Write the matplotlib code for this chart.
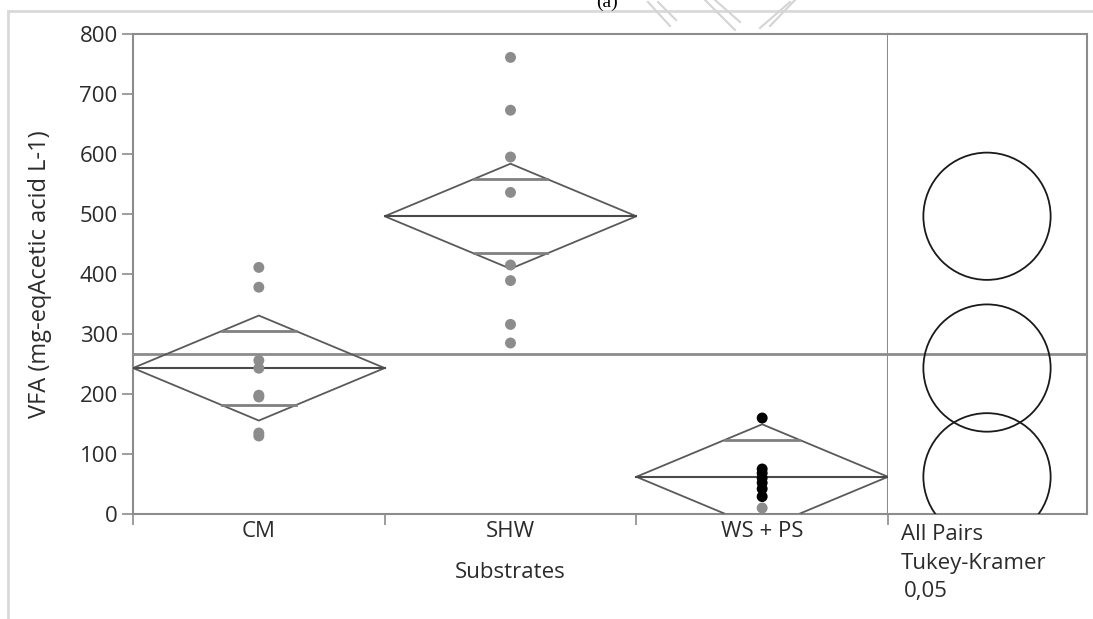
import numpy as np
import matplotlib
matplotlib.use("Agg")
import matplotlib.pyplot as plt
from matplotlib.lines import Line2D
from matplotlib.patches import Polygon, Circle

plt.rcParams['font.family'] = ['Open Sans', 'DejaVu Sans']

# ---- data -------------------------------------------------------------
groups = ["CM", "SHW", "WS + PS"]
cm_vals = [411, 378, 256, 243, 198, 195, 135, 130]
shw_vals = [761, 673, 595, 536, 415, 389, 316, 285]
wsps_vals = [160, 75, 68, 60, 52, 42, 29, 10]
wsps_colors = ["black"] * 7 + ["#8c8c8c"]
group_vals = [cm_vals, shw_vals, wsps_vals]
group_colors = [["#8c8c8c"] * len(cm_vals), ["#8c8c8c"] * len(shw_vals), wsps_colors]

t_crit = 2.080     # t(0.975, 21)
q_crit = 3.565     # studentized range q(0.05, 3, 21)
alpha_text = "0,05"

# ---- one-way ANOVA summaries -----------------------------------------
means = np.array([np.mean(v) for v in group_vals])
ns = np.array([len(v) for v in group_vals])
ss = sum(((np.array(v) - np.mean(v)) ** 2).sum() for v in group_vals)
dfe = ns.sum() - len(ns)
mse = ss / dfe
se = np.sqrt(mse / ns)
ci = t_crit * se
overlap = ci / np.sqrt(2)
circle_r = q_crit * se / np.sqrt(2)
grand_mean = np.mean(np.concatenate(group_vals))

# ---- figure layout ----------------------------------------------------
W, H = 1093, 619
fig = plt.figure(figsize=(W / 100, H / 100), dpi=100)
x0, x1, x2 = 133, 888, 1087
ytop, ybot = 34, 514
ax = fig.add_axes([x0 / W, (H - ybot) / H, (x1 - x0) / W, (ybot - ytop) / H])
ax2 = fig.add_axes([x1 / W, (H - ybot) / H, (x2 - x1) / W, (ybot - ytop) / H])

spine_c = "#8c8c8c"
text_c = "#2b2b2b"
fs = 16
ymax = 800

# ---- means diamonds plot ---------------------------------------------
ax.set_xlim(0, len(groups))
ax.set_ylim(0, ymax)
for i, (vals, cols) in enumerate(zip(group_vals, group_colors)):
    m, c, o = means[i], ci[i], overlap[i]
    xc = i + 0.5
    diamond = Polygon([(i, m), (xc, m + c), (i + 1, m), (xc, m - c)],
                      closed=True, fill=False, edgecolor="#5a5a5a", lw=1.3, zorder=3)
    ax.add_patch(diamond)
    ax.plot([i, i + 1], [m, m], color="#4a4a4a", lw=1.5, zorder=3)
    hw = 0.5 * (1 - o / c)
    for y in (m + o, m - o):
        ax.plot([xc - hw, xc + hw], [y, y], color="#808080", lw=2, zorder=3)
    ax.scatter([xc] * len(vals), vals, s=62, c=cols, edgecolors="none", zorder=4)

ax.axhline(grand_mean, color="#8c8c8c", lw=2, zorder=2)

for side in ("left", "bottom", "top", "right"):
    ax.spines[side].set_color(spine_c)
    ax.spines[side].set_linewidth(1.5)

ax.set_yticks(range(0, ymax + 1, 100))
ax.tick_params(axis="y", direction="out", length=8, width=1.2, color=spine_c,
               labelsize=fs, labelcolor=text_c, pad=3)
ax.set_xticks(range(len(groups) + 1))
ax.set_xticklabels([])
ax.set_xticks([i + 0.5 for i in range(len(groups))], minor=True)
ax.set_xticklabels(groups, minor=True)
ax.tick_params(axis="x", which="major", direction="out", length=8, width=1.2, color=spine_c)
ax.tick_params(axis="x", which="minor", length=0, labelsize=fs, labelcolor=text_c, pad=5)

ax.set_ylabel("VFA (mg-eqAcetic acid L-1)", fontsize=17, color=text_c)
ax.yaxis.set_label_coords((52 - x0) / (x1 - x0), 0.5)
ax.text(0.5, (ybot - 573) / (ybot - ytop), "Substrates", transform=ax.transAxes,
        ha="center", va="center", fontsize=fs, color=text_c)

# ---- comparison circles panel -----------------------------------------
ax2.set_ylim(0, ymax)
half_w = ymax * (x2 - x1) / (ybot - ytop) / 2
ax2.set_xlim(-half_w, half_w)
cx = (987 - (x1 + x2) / 2) * ymax / (ybot - ytop)
for m, r in zip(means, circle_r):
    ax2.add_patch(Circle((cx, m), r, fill=False, edgecolor="#1a1a1a", lw=1.3, zorder=3))
ax2.axhline(grand_mean, color="#8c8c8c", lw=2, zorder=2)
ax2.set_xticks([])
ax2.set_yticks([])
ax2.spines["left"].set_visible(False)
for side in ("bottom", "top", "right"):
    ax2.spines[side].set_color(spine_c)
    ax2.spines[side].set_linewidth(1.5)

for txt, yy, xx in (("All Pairs", 534, 901), ("Tukey-Kramer", 563, 901), (alpha_text, 592, 904)):
    fig.text(xx / W, (H - yy) / H, txt, ha="left", va="center", fontsize=fs, color=text_c)

# ---- page frame and panel tag -----------------------------------------
frame_c = "#d9d9d9"
fig.add_artist(Line2D([8 / W, 8 / W], [0, (H - 11) / H], color=frame_c, lw=2))
fig.add_artist(Line2D([8 / W, 1], [(H - 11) / H, (H - 11) / H], color=frame_c, lw=2))
fig.text(607 / W, (H - 2) / H, "(a)", ha="center", va="center", fontsize=14,
         color="black", family="Liberation Serif")

# faint logo strokes along the top edge
logo_c = "#d4d4d4"
for xs, ys in (([648, 670], [2, 26]), ([658, 676], [2, 20]),
               ([705, 735], [0, 30]), ([715, 740], [0, 22]),
               ([760, 790], [28, 2]), ([770, 795], [26, 0])):
    fig.add_artist(Line2D([v / W for v in xs], [(H - v) / H for v in ys],
                          color=logo_c, lw=1.5))

fig.savefig("out.png", dpi=100)
